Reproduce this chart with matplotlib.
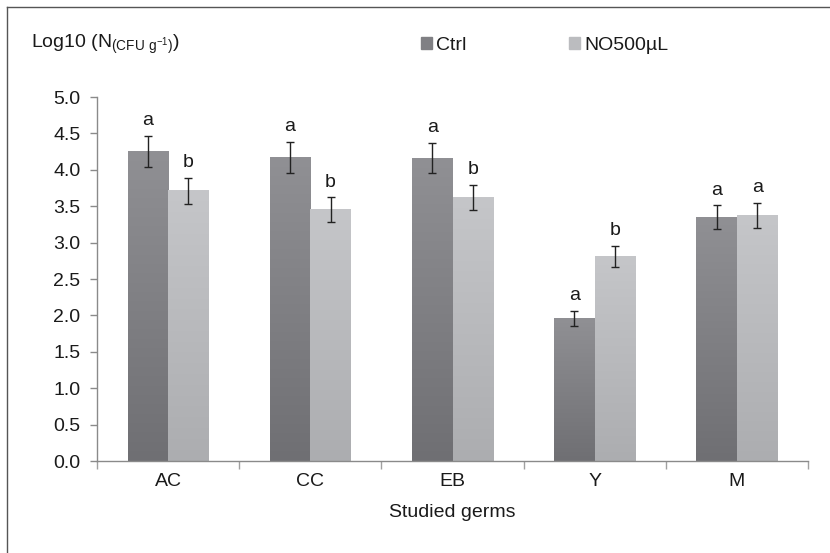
import matplotlib
matplotlib.use("Agg")
import matplotlib.pyplot as plt
import numpy as np
from matplotlib.colors import LinearSegmentedColormap
from matplotlib.patches import Rectangle

plt.rcParams['font.family'] = ['Liberation Sans', 'DejaVu Sans']
plt.rcParams['mathtext.fontset'] = 'custom'
plt.rcParams['mathtext.rm'] = 'Liberation Sans'

categories = ["AC", "CC", "EB", "Y", "M"]
ctrl_vals = [4.25, 4.17, 4.16, 1.96, 3.35]
ctrl_err = [0.21, 0.21, 0.21, 0.10, 0.16]
no_vals = [3.71, 3.45, 3.62, 2.81, 3.37]
no_err = [0.18, 0.17, 0.17, 0.14, 0.17]
ctrl_letters = ["a", "a", "a", "a", "a"]
no_letters = ["b", "b", "b", "b", "a"]
series_names = ["Ctrl", "NO500µL"]
yticks = [0.0, 0.5, 1.0, 1.5, 2.0, 2.5, 3.0, 3.5, 4.0, 4.5, 5.0]

FS = 14
TXT = '#1a1a1a'
fig = plt.figure(figsize=(8.30, 5.53), dpi=100)
W, H = 830, 553
ax = fig.add_axes([97 / W, 1 - 461 / H, (808 - 97) / W, (461 - 97) / H])

x = np.arange(len(categories))
bw = 0.285
ctrl_cmap = LinearSegmentedColormap.from_list("c", ["#6f6f73", "#909094"])
no_cmap = LinearSegmentedColormap.from_list("n", ["#acadb0", "#c5c6c9"])
grad = np.linspace(0, 1, 256).reshape(-1, 1)

def grad_bars(bars, cmap):
    for b in bars:
        x0, y0 = b.get_x(), b.get_y()
        w, h = b.get_width(), b.get_height()
        ax.imshow(grad, cmap=cmap, origin='lower', aspect='auto',
                  extent=[x0, x0 + w, y0, y0 + h], zorder=2,
                  interpolation='bilinear')
        b.set_visible(False)

b1 = ax.bar(x - bw / 2, ctrl_vals, bw, color="#808084", label=series_names[0], zorder=2)
b2 = ax.bar(x + bw / 2, no_vals, bw, color="#bbbcbf", label=series_names[1], zorder=2)
grad_bars(b1, ctrl_cmap)
grad_bars(b2, no_cmap)

ax.errorbar(x - bw / 2, ctrl_vals, yerr=ctrl_err, fmt='none', ecolor='#222222',
            elinewidth=1, capsize=3, capthick=1, zorder=3)
ax.errorbar(x + bw / 2, no_vals, yerr=no_err, fmt='none', ecolor='#222222',
            elinewidth=1, capsize=3, capthick=1, zorder=3)

for i in range(len(categories)):
    ax.text(x[i] - bw / 2, ctrl_vals[i] + ctrl_err[i] + 0.15, ctrl_letters[i],
            ha='center', va='baseline', fontsize=FS, color=TXT)
    ax.text(x[i] + bw / 2, no_vals[i] + no_err[i] + 0.15, no_letters[i],
            ha='center', va='baseline', fontsize=FS, color=TXT)

ax.set_xlim(-0.5, len(categories) - 0.5)
ax.set_ylim(0, 5.0)
ax.set_yticks(yticks)
ax.set_yticklabels([f"{v:.1f}" for v in yticks], fontsize=FS, color=TXT)
ax.set_xticks(x)
ax.set_xticklabels(categories, fontsize=FS, color=TXT)
ax.tick_params(axis='x', length=0, pad=9)
ax.tick_params(axis='y', length=5, color='#8a8a8a', width=1, pad=7)
ax.set_xticks(np.arange(-0.5, len(categories), 1.0), minor=True)
ax.tick_params(axis='x', which='minor', length=6, color='#a0a0a0', width=1)

for s in ['top', 'right']:
    ax.spines[s].set_visible(False)
for s in ['left', 'bottom']:
    ax.spines[s].set_color('#8a8a8a')
    ax.spines[s].set_linewidth(1)

fig.text(452 / W, 1 - 517 / H, "Studied germs", ha='center', va='baseline',
         fontsize=FS, color=TXT)
fig.text(31 / W, 1 - 48 / H, r"Log10 (N$_{\mathregular{(CFU\ g^{-1})}}$)", ha='left',
         va='baseline', fontsize=FS, color=TXT)

leg = fig.legend(handles=[Rectangle((0, 0), 1, 1, color="#808084"),
                          Rectangle((0, 0), 1, 1, color="#bbbcbf")],
                 labels=series_names, loc='center left',
                 bbox_to_anchor=(421 / W, 1 - 45 / H), ncol=2, frameon=False,
                 fontsize=FS, handlelength=0.57, handleheight=0.57,
                 handletextpad=0.2, columnspacing=5.3, borderpad=0, borderaxespad=0)
for t in leg.get_texts():
    t.set_color(TXT)

# outer frame (left and top lines)
fig.add_artist(plt.Line2D([7 / W, 7 / W], [0, 1 - 7 / H], transform=fig.transFigure,
                          color='#555555', lw=1))
fig.add_artist(plt.Line2D([7 / W, 1], [1 - 7 / H, 1 - 7 / H], transform=fig.transFigure,
                          color='#555555', lw=1))

fig.savefig("out.png", dpi=100)
